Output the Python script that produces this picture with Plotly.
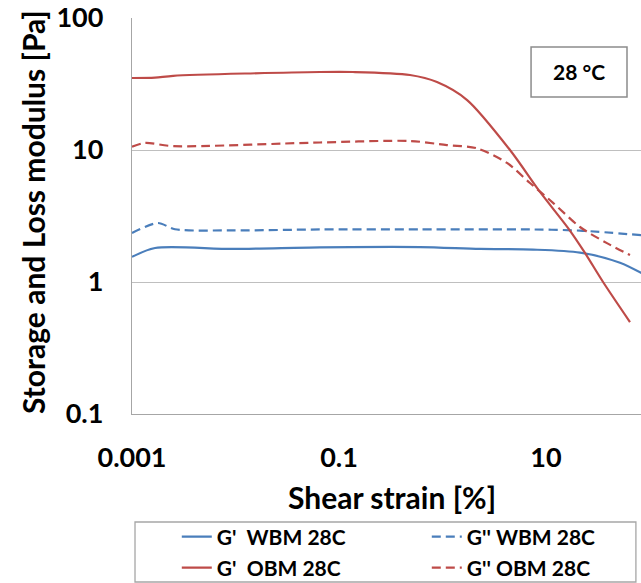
import plotly.graph_objects as go

# ---- data ----
gp_wbm_x = [0.001, 0.00167, 0.00946, 0.0655, 0.607, 2.3, 7.49, 21.3, 51.9, 85.0]
gp_wbm_y = [1.55, 1.81, 1.78, 1.83, 1.84, 1.78, 1.76, 1.67, 1.40, 1.16]

gpp_wbm_x = [0.001, 0.00178, 0.0026, 0.00946, 0.0655, 0.607, 7.49, 21.3, 85.0]
gpp_wbm_y = [2.35, 2.80, 2.51, 2.46, 2.50, 2.50, 2.50, 2.45, 2.26]

gp_obm_x = [0.001, 0.00167, 0.0025, 0.0655, 0.1365, 0.485, 0.885, 1.73, 4.49, 8.75, 16.3, 23.8, 35.6, 64.8]
gp_obm_y = [35.1, 35.3, 36.5, 39.0, 39.0, 37.0, 32.7, 23.9, 10.0, 4.81, 2.57, 1.66, 1.0, 0.497]

gpp_obm_x = [0.001, 0.001335, 0.0025, 0.0655, 0.485, 1.10, 2.15, 4.2, 7.0, 11.7, 21.3, 38.8, 64.8]
gpp_obm_y = [10.6, 11.3, 10.7, 11.4, 11.7, 10.9, 10.3, 7.98, 5.62, 3.98, 2.61, 1.97, 1.60]

series_names = ["G'  WBM 28C", "G'' WBM 28C", "G'  OBM 28C", "G'' OBM 28C"]

x_tickvals = [0.001, 0.1, 10]
x_ticktext = ["0.001", "0.1", "10"]
y_tickvals = [0.1, 1, 10, 100]
y_ticktext = ["0.1", "1", "10", "100"]

BLUE = "#4a7ebb"
RED = "#be4b48"
FONT = "Lato"
DASH = "9px,5px"

fig = go.Figure()
traces = [
    (gp_wbm_x, gp_wbm_y, series_names[0], BLUE, "solid", "legend"),
    (gpp_wbm_x, gpp_wbm_y, series_names[1], BLUE, DASH, "legend"),
    (gp_obm_x, gp_obm_y, series_names[2], RED, "solid", "legend2"),
    (gpp_obm_x, gpp_obm_y, series_names[3], RED, DASH, "legend2"),
]
for xs, ys, name, col, dash, lg in traces:
    fig.add_trace(go.Scatter(
        x=xs, y=ys, name=name, mode="lines", legend=lg,
        line=dict(color=col, width=2.2, dash=dash, shape="spline", smoothing=0.8),
    ))

legend_common = dict(
    orientation="h", x=0.088, xanchor="left", yanchor="middle",
    entrywidth=205, entrywidthmode="pixels",
    font=dict(family=FONT, size=21, weight="bold"),
    bgcolor="rgba(0,0,0,0)", itemwidth=30,
)

fig.update_layout(
    width=641, height=583,
    margin=dict(l=132, r=0, t=18, b=169, autoexpand=False),
    paper_bgcolor="white", plot_bgcolor="white",
    font=dict(family=FONT, color="black"),
    showlegend=True,
    legend=dict(legend_common, y=(414 - 537) / 396),
    legend2=dict(legend_common, y=(414 - 568) / 396),
    xaxis=dict(
        type="log", range=[-3, 1.918],
        tickvals=x_tickvals, ticktext=x_ticktext,
        tickfont=dict(family=FONT, size=27, weight="bold"),
        showgrid=False, zeroline=False,
        showline=True, linecolor="#a6a6a6", linewidth=1.3,
        ticks="", ticklabelstandoff=19,
    ),
    yaxis=dict(
        type="log", range=[-1, 2],
        tickvals=y_tickvals, ticktext=y_ticktext,
        tickfont=dict(family=FONT, size=27, weight="bold"),
        showgrid=True, gridcolor="#bfbfbf", gridwidth=1.3,
        zeroline=False,
        showline=True, linecolor="#a6a6a6", linewidth=1.3,
        ticks="", ticklabelstandoff=22,
    ),
    shapes=[
        dict(type="rect", xref="paper", yref="paper",
             x0=0.0059, x1=0.990, y0=-0.2727, y1=-0.4242,
             line=dict(color="#a6a6a6", width=1.3), fillcolor="rgba(0,0,0,0)", layer="below"),
        dict(type="rect", xref="paper", yref="paper",
             x0=0.784, x1=0.9725, y0=0.8005, y1=0.9268,
             line=dict(color="#8c8c8c", width=1.5), fillcolor="white"),
    ],
    annotations=[
        dict(text="28 °C", xref="paper", yref="paper", x=0.878, y=0.864,
             xanchor="center", yanchor="middle",
             showarrow=False, font=dict(family=FONT, size=21, weight="bold")),
        dict(text="Storage and Loss modulus [Pa]", xref="paper", yref="paper",
             x=(33 - 132) / 509, y=(414 - 212) / 396, textangle=-90, showarrow=False,
             xanchor="center", yanchor="middle",
             font=dict(family=FONT, size=30, weight="bold")),
        dict(text="Shear strain [%]", xref="paper", yref="paper",
             x=(392 - 132) / 509, y=(414 - 497) / 396, showarrow=False,
             xanchor="center", yanchor="middle",
             font=dict(family=FONT, size=30, weight="bold")),
    ],
)

fig.write_html("out.html")
